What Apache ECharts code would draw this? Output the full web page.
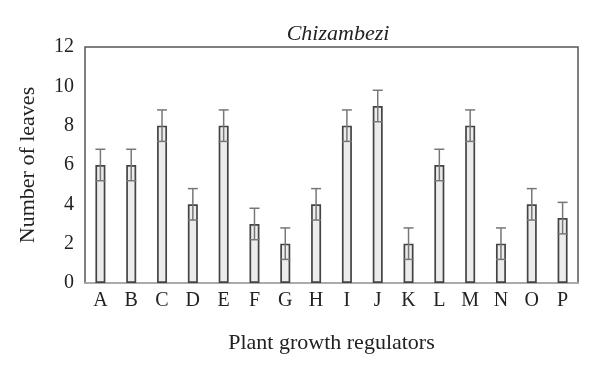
<!DOCTYPE html>
<html><head><meta charset="utf-8">
<script src="https://cdn.jsdelivr.net/npm/echarts@6/dist/echarts.min.js"></script>
<style>html,body{margin:0;padding:0;background:#fff}#c{width:600px;height:375px}</style>
</head><body><div id="c"></div>
<script>
var categories = ['A','B','C','D','E','F','G','H','I','J','K','L','M','N','O','P'];
var values = [6,6,8,4,8,3,2,4,8,9,2,6,8,2,4,3.3];
var errors = [0.8,0.8,0.8,0.8,0.8,0.8,0.8,0.8,0.8,0.8,0.8,0.8,0.8,0.8,0.8,0.8];
var yTicks = [0,2,4,6,8,10,12];

var errData = categories.map(function(c,i){return [i, values[i]-errors[i], values[i]+errors[i]];});
var chart = echarts.init(document.getElementById('c'));
var font = 'Liberation Serif';
chart.setOption({
  animation:false,
  title:{text:'Chizambezi',left:333,top:18,textAlign:'center',textStyle:{fontFamily:font,fontStyle:'italic',fontWeight:'normal',fontSize:22,color:'#222'}},
  grid:{left:85,right:22,top:47,bottom:92,show:true,borderColor:'#555',borderWidth:1.5},
  xAxis:{type:'category',data:categories,name:'Plant growth regulators',nameLocation:'middle',nameGap:49,
    nameTextStyle:{fontFamily:font,fontSize:22,color:'#222'},
    axisLine:{lineStyle:{color:'#bbb',width:1.5}},axisTick:{show:false},
    axisLabel:{fontFamily:font,fontSize:20,color:'#222',margin:8}},
  yAxis:{type:'value',min:0,max:12,interval:2,name:'Number of leaves',nameLocation:'middle',nameGap:46,
    nameTextStyle:{fontFamily:font,fontSize:22,color:'#222'},
    axisLine:{show:false},axisTick:{show:false},splitLine:{show:false},
    axisLabel:{fontFamily:font,fontSize:20,color:'#222',margin:11,formatter:function(v){return yTicks.indexOf(v)>=0?String(v):'';}}},
  series:[
    {type:'bar',data:values,barWidth:10,itemStyle:{color:'#ececec',borderColor:'#444',borderWidth:1.7}},
    {type:'custom',data:errData,z:10,
      renderItem:function(params,api){
        var x=api.value(0);
        var lo=api.coord([x,api.value(1)]);
        var hi=api.coord([x,api.value(2)]);
        var hw=5;
        var st={stroke:'#777',lineWidth:1.5};
        return {type:'group',children:[
          {type:'line',shape:{x1:hi[0],y1:hi[1],x2:lo[0],y2:lo[1]},style:st},
          {type:'line',shape:{x1:hi[0]-hw,y1:hi[1],x2:hi[0]+hw,y2:hi[1]},style:st},
          {type:'line',shape:{x1:lo[0]-hw,y1:lo[1],x2:lo[0]+hw,y2:lo[1]},style:st}
        ]};
      }}
  ]
});
</script></body></html>
